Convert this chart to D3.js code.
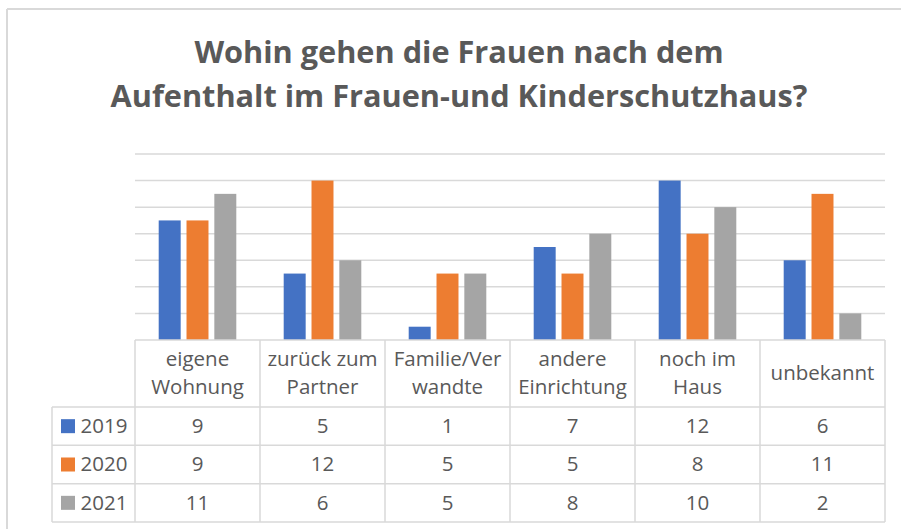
<!DOCTYPE html>
<html>
<head>
<meta charset="utf-8">
<script src="https://cdn.jsdelivr.net/npm/d3@7"></script>
<style>
  html, body { margin: 0; padding: 0; background: #fff; }
  svg { display: block; font-family: "Open Sans", sans-serif; }
</style>
</head>
<body>
<svg id="chart" width="901" height="529"></svg>
<script>
// ---- Daten
const titelZeilen = ["Wohin gehen die Frauen nach dem", "Aufenthalt im Frauen-und Kinderschutzhaus?"];
const kategorien = ["eigene Wohnung", "zurück zum Partner", "Familie/Verwandte", "andere Einrichtung", "noch im Haus", "unbekannt"];
const kategorieZeilen = [["eigene", "Wohnung"], ["zurück zum", "Partner"], ["Familie/Ver", "wandte"], ["andere", "Einrichtung"], ["noch im", "Haus"], ["unbekannt"]];
const jahre = ["2019", "2020", "2021"];
const werte2019 = [9, 5, 1, 7, 12, 6];
const werte2020 = [9, 12, 5, 5, 8, 11];
const werte2021 = [11, 6, 5, 8, 10, 2];
const farben = ["#4472C4", "#ED7D31", "#A5A5A5"];
const yTicks = [0, 2, 4, 6, 8, 10, 12, 14];

const serien = jahre.map((j, i) => ({ jahr: j, werte: [werte2019, werte2020, werte2021][i], farbe: farben[i] }));

const svg = d3.select('#chart');
const textFarbe = '#595959';
const linienFarbe = '#D9D9D9';

// ---- Rahmen (nur oben/links sichtbar)
svg.append('line').attr('x1', 7).attr('x2', 901).attr('y1', 9).attr('y2', 9)
    .attr('stroke', linienFarbe).attr('stroke-width', 2);
svg.append('line').attr('x1', 7).attr('x2', 7).attr('y1', 9).attr('y2', 529)
    .attr('stroke', linienFarbe).attr('stroke-width', 2);

// ---- Titel (Schriftgröße an Breite angepasst)
const titel = svg.append('g');
titel.selectAll('text').data(titelZeilen).join('text')
    .attr('x', 459)
    .attr('y', (d, i) => 63 + i * 44)
    .attr('text-anchor', 'middle')
    .attr('fill', textFarbe)
    .attr('font-weight', 'bold')
    .attr('font-size', 28)
    .text(d => d);
const zweite = titel.selectAll('text').nodes()[1];
const fs = 28 * 697 / zweite.getComputedTextLength();
titel.selectAll('text').attr('font-size', fs);

// ---- Skalen
const x0 = d3.scaleBand().domain(kategorien).range([135, 885]).padding(0);
const x1 = d3.scaleBand().domain(jahre).range([23.7, 101.3]).paddingInner(0.21);
const y = d3.scaleLinear().domain([0, 14]).range([340, 154]);

// ---- Gitterlinien
svg.append('g').selectAll('line').data(yTicks.slice(1)).join('line')
    .attr('x1', 135).attr('x2', 885)
    .attr('y1', d => y(d)).attr('y2', d => y(d))
    .attr('stroke', linienFarbe).attr('stroke-width', 1.5);

// ---- Balken
const gruppen = svg.append('g').selectAll('g').data(kategorien).join('g')
    .attr('transform', d => `translate(${x0(d)},0)`);
gruppen.selectAll('rect')
    .data((k, ki) => serien.map(s => ({ jahr: s.jahr, wert: s.werte[ki], farbe: s.farbe })))
    .join('rect')
    .attr('x', d => x1(d.jahr))
    .attr('width', x1.bandwidth())
    .attr('y', d => y(d.wert))
    .attr('height', d => y(0) - y(d.wert))
    .attr('fill', d => d.farbe);

// ---- Datentabelle
const kopfOben = 340, kopfUnten = 407, zeilenH = (522 - 407) / 3;
const zeileY = i => kopfUnten + i * zeilenH;
const tabelle = svg.append('g').attr('stroke', linienFarbe).attr('stroke-width', 1.5);

// horizontale Linien
tabelle.append('line').attr('x1', 135).attr('x2', 885).attr('y1', kopfOben).attr('y2', kopfOben);
tabelle.selectAll('.h').data([0, 1, 2, 3]).join('line').attr('class', 'h')
    .attr('x1', 52).attr('x2', 885)
    .attr('y1', d => zeileY(d)).attr('y2', d => zeileY(d));
// vertikale Linien
tabelle.selectAll('.v').data(kategorien.concat(['_ende'])).join('line').attr('class', 'v')
    .attr('x1', (d, i) => 135 + i * x0.step()).attr('x2', (d, i) => 135 + i * x0.step())
    .attr('y1', kopfOben).attr('y2', zeileY(3));
tabelle.append('line').attr('x1', 52).attr('x2', 52).attr('y1', zeileY(0)).attr('y2', zeileY(3));

const tabFs = 20.5;
// Kopfzeile (Kategorien)
const kopf = svg.append('g').attr('fill', textFarbe).attr('font-size', tabFs).attr('text-anchor', 'middle');
kopf.selectAll('text').data(kategorieZeilen).join('text')
    .attr('x', (d, i) => x0(kategorien[i]) + x0.bandwidth() / 2)
    .attr('y', d => (kopfOben + kopfUnten) / 2 + 6.5 - (d.length - 1) * 14.2)
    .each(function(d) {
        d3.select(this).selectAll('tspan').data(d).join('tspan')
            .attr('x', d3.select(this).attr('x'))
            .attr('dy', (t, i) => i === 0 ? 0 : 28.4)
            .text(t => t);
    });

// Datenzeilen
serien.forEach((s, si) => {
    const mitte = zeileY(si) + zeilenH / 2;
    svg.append('rect')
        .attr('x', 61).attr('y', mitte - 7)
        .attr('width', 14).attr('height', 14)
        .attr('fill', s.farbe);
    svg.append('text')
        .attr('x', 80.5).attr('y', mitte + 6.8)
        .attr('fill', textFarbe).attr('font-size', tabFs)
        .text(s.jahr);
    svg.append('g').selectAll('text').data(s.werte).join('text')
        .attr('x', (d, i) => x0(kategorien[i]) + x0.bandwidth() / 2)
        .attr('y', mitte + 6.8)
        .attr('text-anchor', 'middle')
        .attr('fill', textFarbe).attr('font-size', tabFs)
        .text(d => d);
});
</script>
</body>
</html>
